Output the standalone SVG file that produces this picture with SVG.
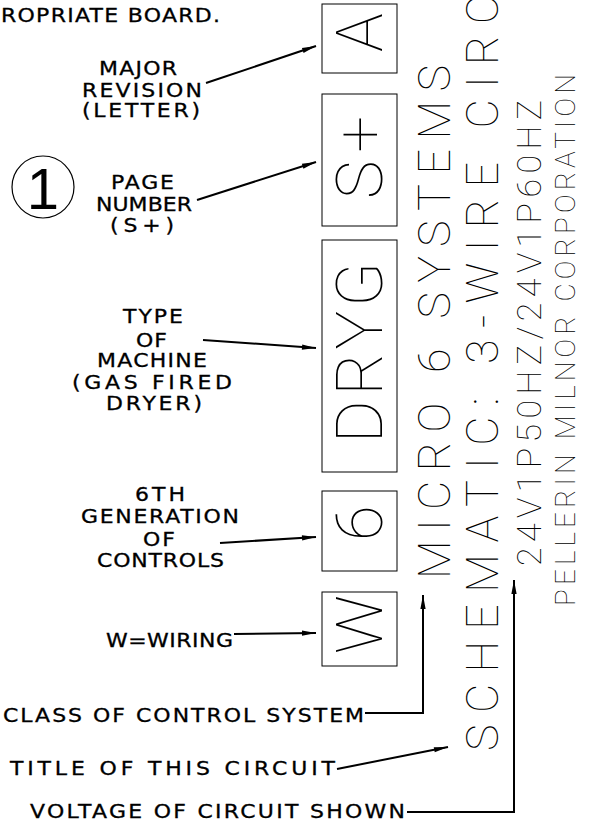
<svg xmlns="http://www.w3.org/2000/svg" width="592" height="822" viewBox="0 0 592 822">
<style>
.lbl{font-family:"DejaVu Sans","Liberation Sans",sans-serif;font-size:22px;fill:#000;stroke:#000;stroke-width:0.35}
.cad{font-family:Roboto,"Lato","DejaVu Sans",sans-serif;font-weight:100;fill:#000}
.box{fill:none;stroke:#000;stroke-width:1}
.ln{fill:none;stroke:#000;stroke-width:2}
</style>
<defs>
<marker id="ah" viewBox="0 0 16 8" refX="16" refY="4" markerWidth="15" markerHeight="7" markerUnits="userSpaceOnUse" orient="auto">
<path d="M0,1 L16,4 L0,7 Z" fill="#000"/>
</marker>
</defs>
<rect width="592" height="822" fill="#fff"/>

<g id="top-note"><text class="lbl" transform="translate(1,22) scale(1,0.85)" textLength="219" lengthAdjust="spacing">ROPRIATE BOARD.</text></g>

<g id="circle-1">
<circle cx="43" cy="187" r="31" fill="none" stroke="#000" stroke-width="1.2"/>
<text x="43" y="209" text-anchor="middle" font-family="Liberation Sans,Arial,sans-serif" font-size="58" fill="#000">1</text>
</g>

<g id="label-revision">
<text class="lbl" transform="translate(99,75) scale(1,0.85)" textLength="78" lengthAdjust="spacing">MAJOR</text>
<text class="lbl" transform="translate(82,97) scale(1,0.85)" textLength="120" lengthAdjust="spacing">REVISION</text>
<text class="lbl" transform="translate(82,117) scale(1,0.85)" textLength="118" lengthAdjust="spacing">(LETTER)</text>
</g>
<g id="label-page">
<text class="lbl" transform="translate(111,189) scale(1,0.85)" textLength="63" lengthAdjust="spacing">PAGE</text>
<text class="lbl" transform="translate(96,211) scale(1,0.85)" textLength="96" lengthAdjust="spacing">NUMBER</text>
<text class="lbl" transform="translate(110,232) scale(1,0.85)" textLength="64" lengthAdjust="spacing">(S+)</text>
</g>
<g id="label-machine">
<text class="lbl" transform="translate(123,323) scale(1,0.85)" textLength="60" lengthAdjust="spacing">TYPE</text>
<text class="lbl" transform="translate(136,347) scale(1,0.85)" textLength="31" lengthAdjust="spacing">OF</text>
<text class="lbl" transform="translate(97,367) scale(1,0.85)" textLength="110" lengthAdjust="spacing">MACHINE</text>
<text class="lbl" transform="translate(72,389) scale(1,0.85)" textLength="160" lengthAdjust="spacing">(GAS FIRED</text>
<text class="lbl" transform="translate(106,410) scale(1,0.85)" textLength="96" lengthAdjust="spacing">DRYER)</text>
</g>
<g id="label-generation">
<text class="lbl" transform="translate(135,501) scale(1,0.85)" textLength="50" lengthAdjust="spacing">6TH</text>
<text class="lbl" transform="translate(81,523) scale(1,0.85)" textLength="158" lengthAdjust="spacing">GENERATION</text>
<text class="lbl" transform="translate(143,546) scale(1,0.85)" textLength="32" lengthAdjust="spacing">OF</text>
<text class="lbl" transform="translate(97,567) scale(1,0.85)" textLength="127" lengthAdjust="spacing">CONTROLS</text>
</g>
<g id="label-wiring"><text class="lbl" transform="translate(106,647) scale(1,0.85)" textLength="127" lengthAdjust="spacing">W=WIRING</text></g>
<g id="label-class"><text class="lbl" transform="translate(3,722) scale(1,0.85)" textLength="361" lengthAdjust="spacing">CLASS OF CONTROL SYSTEM</text></g>
<g id="label-title"><text class="lbl" transform="translate(10,775) scale(1,0.85)" textLength="325" lengthAdjust="spacing">TITLE OF THIS CIRCUIT</text></g>
<g id="label-voltage"><text class="lbl" transform="translate(30,818) scale(1,0.85)" textLength="375" lengthAdjust="spacing">VOLTAGE OF CIRCUIT SHOWN</text></g>

<g id="box-A">
<rect class="box" x="322" y="4" width="75" height="69"/>
<text class="cad" font-size="65" transform="translate(382,52) rotate(-90)">A</text>
</g>
<g id="box-S">
<rect class="box" x="322" y="94" width="75" height="132"/>
<text class="cad" font-size="65" transform="translate(382,199) rotate(-90)" textLength="83" lengthAdjust="spacing">S+</text>
</g>
<g id="box-DRYG">
<rect class="box" x="322" y="240" width="75" height="232"/>
<text class="cad" font-size="65" transform="translate(382,443) rotate(-90)" textLength="181" lengthAdjust="spacing">DRYG</text>
</g>
<g id="box-6">
<rect class="box" x="322" y="491" width="75" height="80"/>
<text class="cad" font-size="65" transform="translate(382,541) rotate(-90)">6</text>
</g>
<g id="box-W">
<rect class="box" x="322" y="592" width="75" height="74"/>
<text class="cad" font-size="65" transform="translate(382,654) rotate(-90)">W</text>
</g>

<g id="title-block">
<text class="cad" font-size="45" transform="translate(450,579) rotate(-90)" textLength="514" lengthAdjust="spacing">MICRO 6 SYSTEMS</text>
<text class="cad" font-size="45" transform="translate(498,751) rotate(-90)" textLength="756" lengthAdjust="spacing">SCHEMATIC: 3-WIRE CIRC</text>
<text class="cad" font-size="34" transform="translate(541,566) rotate(-90)" textLength="466" lengthAdjust="spacing">24V1P50HZ/24V1P60HZ</text>
<text class="cad" font-size="28" transform="translate(575,606) rotate(-90)" textLength="532" lengthAdjust="spacing">PELLERIN MILNOR CORPORATION</text>
</g>

<g id="connectors">
<line class="ln" x1="206" y1="83" x2="316" y2="46" marker-end="url(#ah)"/>
<line class="ln" x1="197" y1="200" x2="316" y2="162" marker-end="url(#ah)"/>
<line class="ln" x1="203" y1="340" x2="316" y2="348" marker-end="url(#ah)"/>
<line class="ln" x1="220" y1="543" x2="316" y2="537" marker-end="url(#ah)"/>
<line class="ln" x1="234" y1="634" x2="316" y2="633" marker-end="url(#ah)"/>
<polyline class="ln" points="365,713 423,713 423,595" marker-end="url(#ah)"/>
<line class="ln" x1="337" y1="769" x2="448" y2="747" marker-end="url(#ah)"/>
<polyline class="ln" points="407,812 514,812 514,580" marker-end="url(#ah)"/>
</g>
</svg>
